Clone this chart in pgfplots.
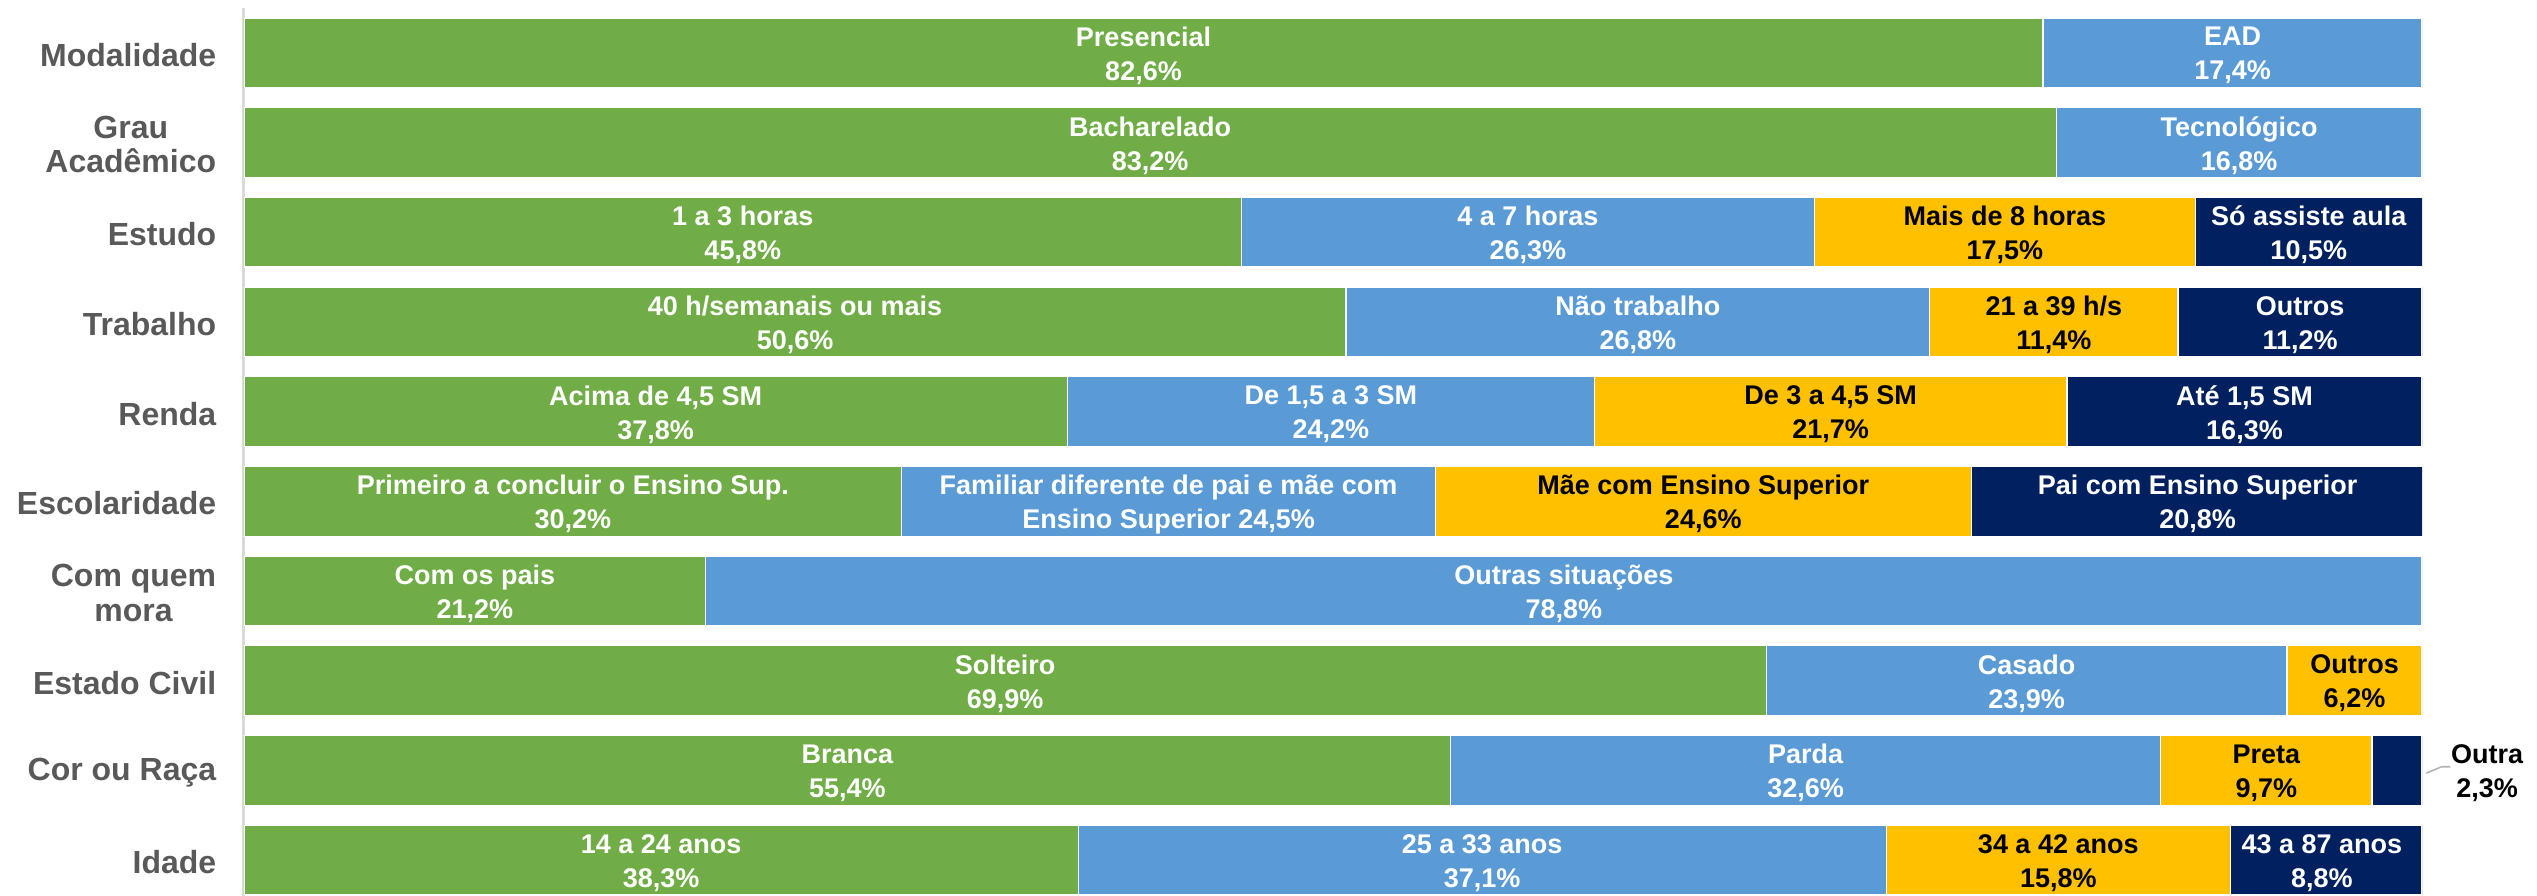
\documentclass[border=0pt]{standalone}
\usepackage{fontspec}
\setmainfont{Liberation Sans}
\usepackage{pgfplots}
\usepackage{pgfplotstable}
\pgfplotsset{compat=1.18}
\usetikzlibrary{calc}

\definecolor{cgreen}{HTML}{70AD47}
\definecolor{cblue}{HTML}{5B9BD5}
\definecolor{cgold}{HTML}{FFC000}
\definecolor{cnavy}{HTML}{002060}
\definecolor{cgray}{HTML}{595959}

% shares per group: green, blue, gold, navy (row 0 = top)
\pgfplotstableread{
y g b o n
0 82.6 17.4 0 0
1 83.2 16.8 0 0
2 45.8 26.3 17.5 10.5
3 50.6 26.8 11.4 11.2
4 37.8 24.2 21.7 16.3
5 30.2 24.5 24.6 20.8
6 21.2 78.8 0 0
7 69.9 23.9 6.2 0
8 55.4 32.6 9.7 2.3
9 38.3 37.1 15.8 8.8
}\shares

\pgfplotsset{frame/.style={scale only axis, width=544.5pt, height=222pt,
  xmin=0, xmax=100, ymin=-0.5, ymax=9.4, y dir=reverse}}
\tikzset{barlab/.style={align=center, inner sep=0pt, yshift=-0.7pt,
  font=\bfseries\fontsize{6.75}{8.5}\selectfont}}
\newcommand{\barlab}[4]{\node[barlab, text=#3] at (axis cs:#1,#2) {#4};}

\begin{document}
\begin{tikzpicture}
\begin{axis}[frame,
  xbar stacked, bar width=0.776,
  axis x line=none, axis y line*=left,
  y axis line style={draw=gray!30, line width=0.75pt, -},
  ytick={0,...,9}, major tick length=0,
  yticklabels={Modalidade,{Grau\\Acadêmico},Estudo,Trabalho,Renda,
    Escolaridade,{Com quem\\mora},Estado Civil,Cor ou Raça,Idade},
  yticklabel style={align=center, text=cgray, inner sep=0pt, xshift=-6.75pt,
    yshift=-0.5pt, font=\bfseries\fontsize{8}{8.6}\selectfont},
  every axis plot/.append style={draw=white, line width=0.3pt}]
  \addplot[fill=cgreen] table[x=g, y=y] {\shares};
  \addplot[fill=cblue] table[x=b, y=y] {\shares};
  \addplot[fill=cgold] table[x=o, y=y] {\shares};
  \addplot[fill=cnavy] table[x=n, y=y] {\shares};
\end{axis}
% labels on top of the bars
\begin{axis}[frame, hide axis, clip=false]
  \barlab{41.3}{0}{white}{Presencial\\82,6\%}
  \barlab{91.3}{0}{white}{EAD\\17,4\%}
  \barlab{41.6}{1}{white}{Bacharelado\\83,2\%}
  \barlab{91.6}{1}{white}{Tecnológico\\16,8\%}
  \barlab{22.9}{2}{white}{1 a 3 horas\\45,8\%}
  \barlab{58.95}{2}{white}{4 a 7 horas\\26,3\%}
  \barlab{80.85}{2}{black}{Mais de 8 horas\\17,5\%}
  \barlab{94.8}{2}{white}{Só assiste aula\\10,5\%}
  \barlab{25.3}{3}{white}{40 h/semanais ou mais\\50,6\%}
  \barlab{64.0}{3}{white}{Não trabalho\\26,8\%}
  \barlab{83.1}{3}{black}{21 a 39 h/s\\11,4\%}
  \barlab{94.4}{3}{white}{Outros\\11,2\%}
  \barlab{18.9}{4}{white}{Acima de 4,5 SM\\37,8\%}
  \barlab{49.9}{4}{white}{De 1,5 a 3 SM\\24,2\%}
  \barlab{72.85}{4}{black}{De 3 a 4,5 SM\\21,7\%}
  \barlab{91.85}{4}{white}{Até 1,5 SM\\16,3\%}
  \barlab{15.1}{5}{white}{Primeiro a concluir o Ensino Sup.\\30,2\%}
  \barlab{42.45}{5}{white}{Familiar diferente de pai e mãe com\\Ensino Superior 24,5\%}
  \barlab{67.0}{5}{black}{Mãe com Ensino Superior\\24,6\%}
  \barlab{89.7}{5}{white}{Pai com Ensino Superior\\20,8\%}
  \barlab{10.6}{6}{white}{Com os pais\\21,2\%}
  \barlab{60.6}{6}{white}{Outras situações\\78,8\%}
  \barlab{34.95}{7}{white}{Solteiro\\69,9\%}
  \barlab{81.85}{7}{white}{Casado\\23,9\%}
  \barlab{96.9}{7}{black}{Outros\\6,2\%}
  \barlab{27.7}{8}{white}{Branca\\55,4\%}
  \barlab{71.7}{8}{white}{Parda\\32,6\%}
  \barlab{92.85}{8}{black}{Preta\\9,7\%}
  \barlab{19.15}{9}{white}{14 a 24 anos\\38,3\%}
  \barlab{56.85}{9}{white}{25 a 33 anos\\37,1\%}
  \barlab{83.3}{9}{black}{34 a 42 anos\\15,8\%}
  \barlab{95.4}{9}{white}{43 a 87 anos\\8,8\%}
  \draw[gray!60, line width=0.4pt] (axis cs:100.2,8.03) -- (axis cs:100.9,7.96) -- (axis cs:101.3,7.96);
  \node[barlab, anchor=west] at (axis cs:101.3,8) {Outra\\2,3\%};
\end{axis}
\pgfresetboundingbox
\path[use as bounding box] ($(current axis.south west)+(-61pt,0pt)$)
  rectangle ($(current axis.north east)+(28.75pt,2pt)$);
\end{tikzpicture}
\end{document}
